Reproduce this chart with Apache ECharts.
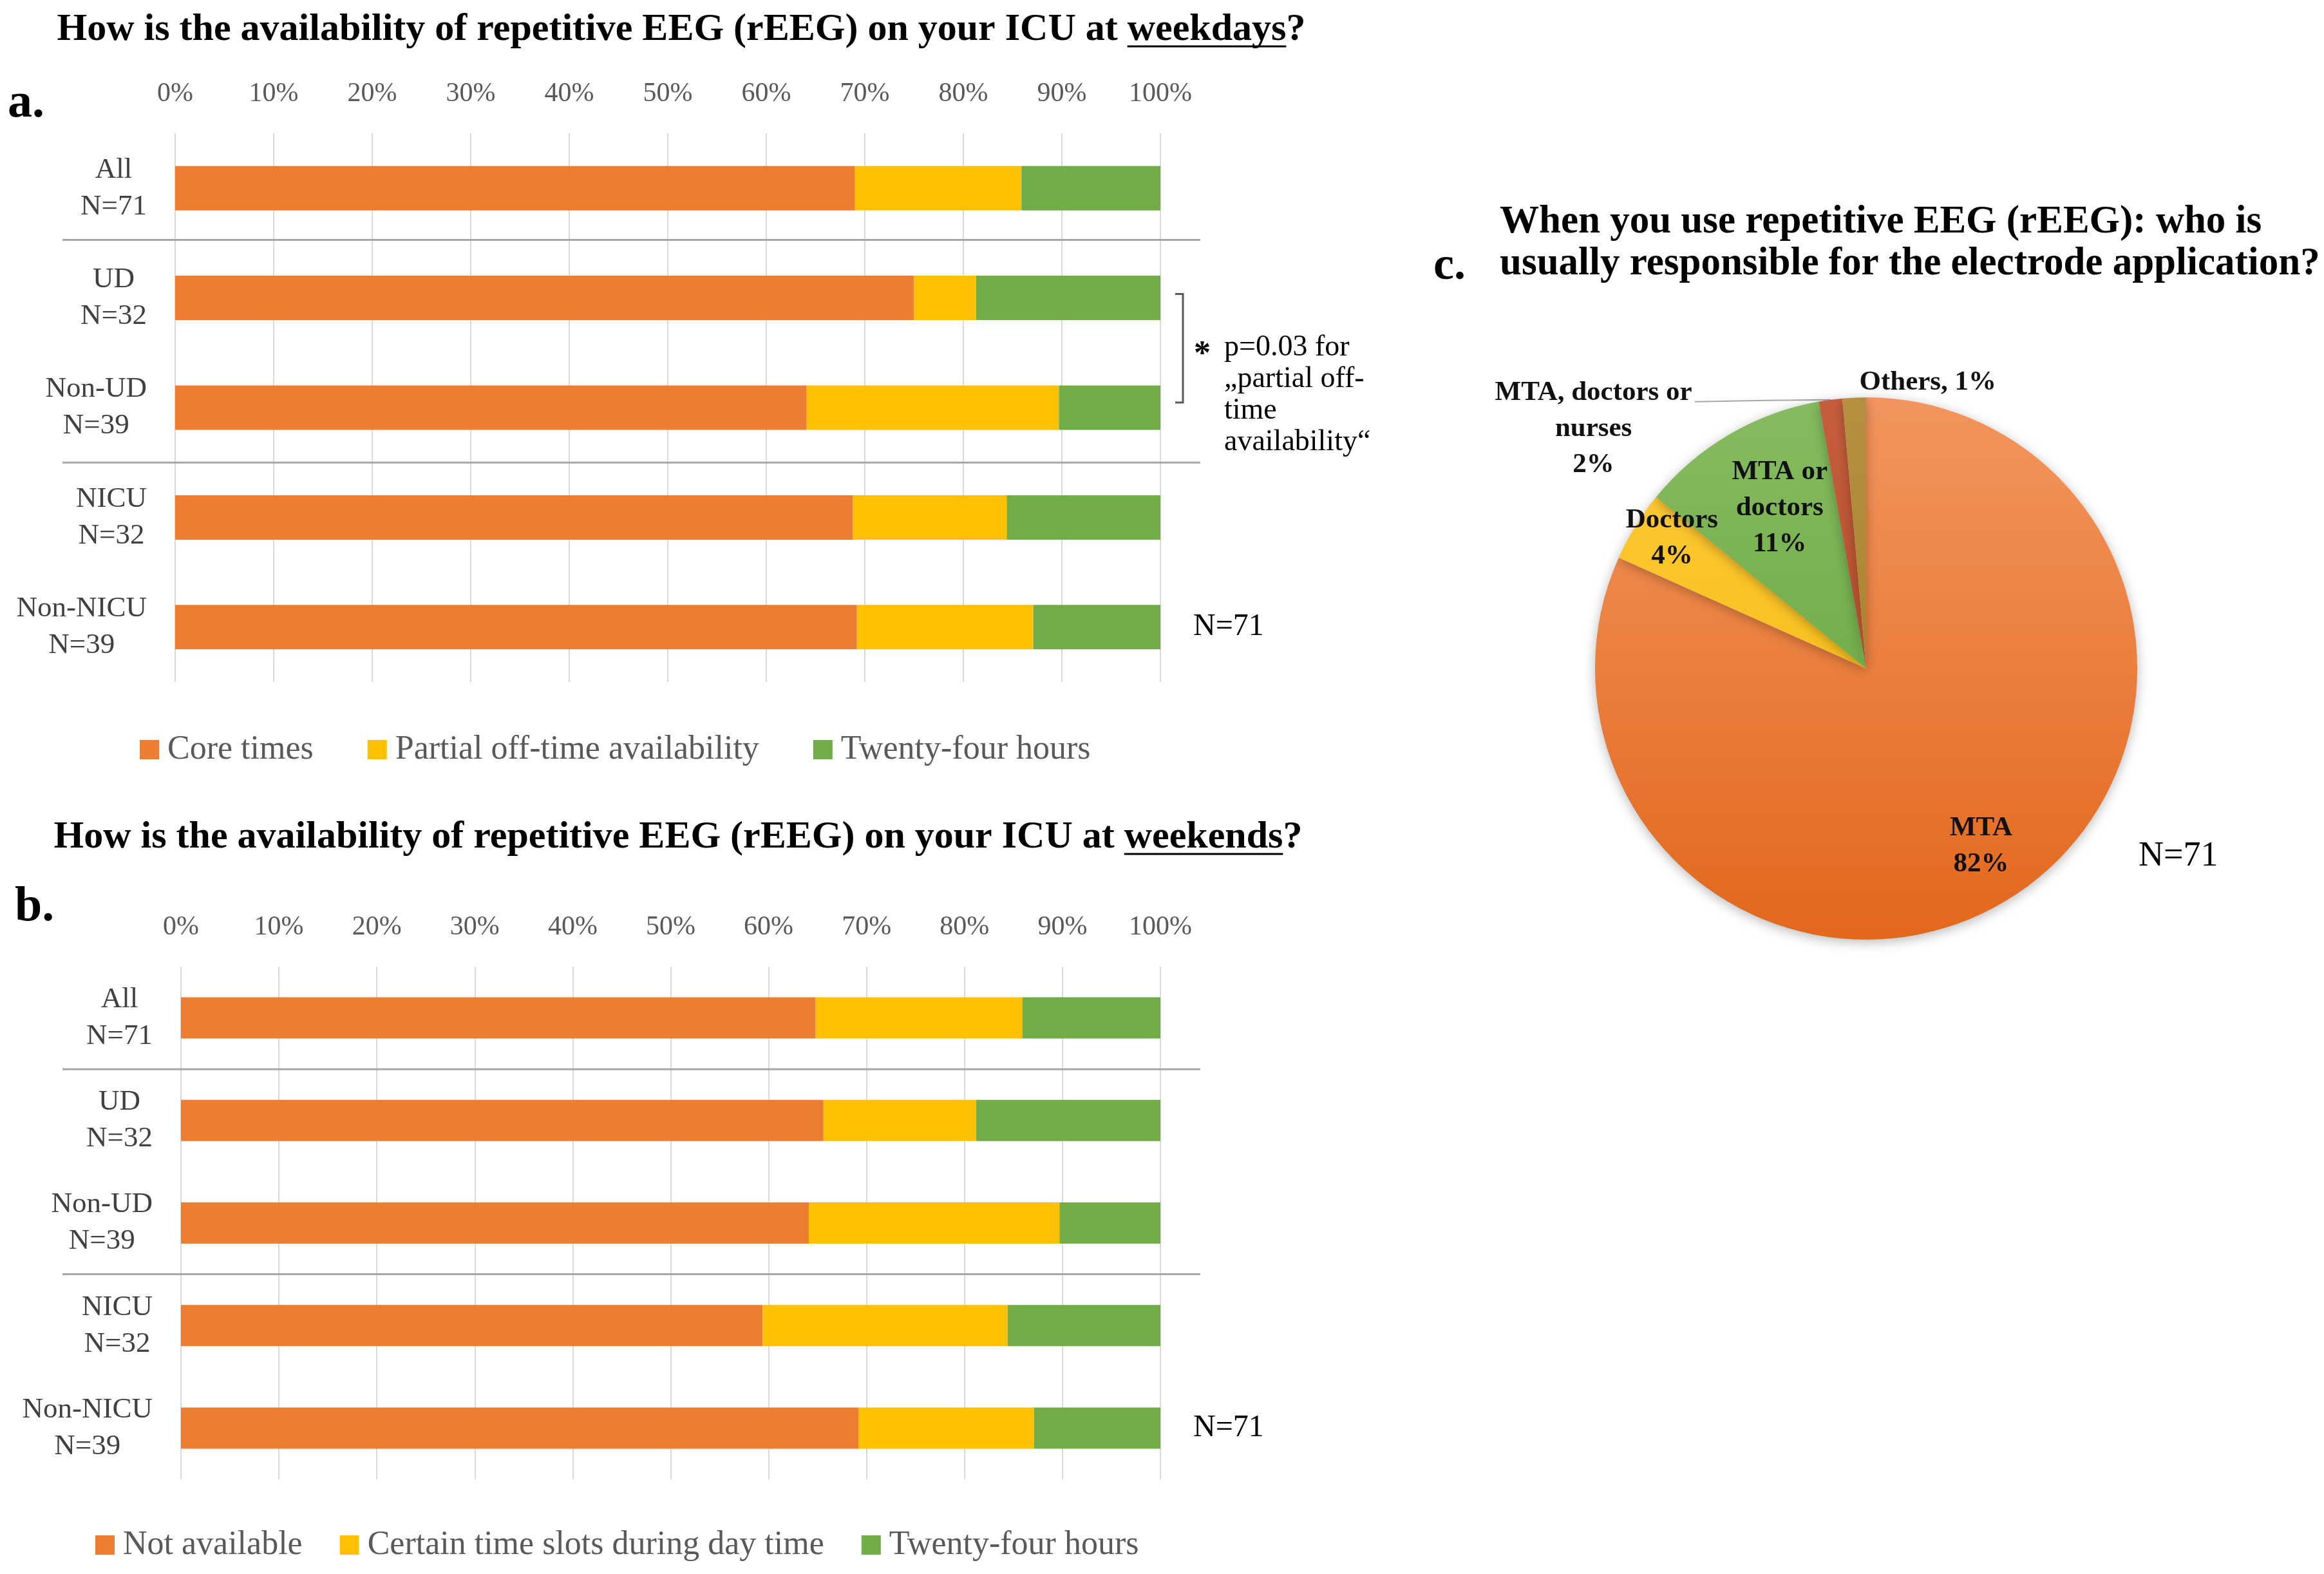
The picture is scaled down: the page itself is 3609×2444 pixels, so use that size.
<!DOCTYPE html>
<html>
<head>
<meta charset="utf-8">
<script src="https://cdn.jsdelivr.net/npm/echarts@6/dist/echarts.min.js"></script>
<style>html,body{margin:0;padding:0;background:#fff}#c{width:3609px;height:2444px}</style>
</head>
<body>
<div id="c"></div>
<script>
// ---------------- data ----------------
const categories = ['All\nN=71', 'UD\nN=32', 'Non-UD\nN=39', 'NICU\nN=32', 'Non-NICU\nN=39'];

const weekdaySeriesNames = ['Core times', 'Partial off-time availability', 'Twenty-four hours'];
const weekdayCore    = [69.0, 75.0, 64.1, 68.8, 69.2];
const weekdayPartial = [16.9,  6.3, 25.6, 15.6, 17.9];
const weekdayFull    = [14.1, 18.7, 10.3, 15.6, 12.9];

const weekendSeriesNames = ['Not available', 'Certain time slots during day time', 'Twenty-four hours'];
const weekendNone  = [64.8, 65.6, 64.1, 59.4, 69.2];
const weekendSlots = [21.1, 15.6, 25.6, 25.0, 17.9];
const weekendFull  = [14.1, 18.8, 10.3, 15.6, 12.9];

const pieNames  = ['MTA', 'Doctors', 'MTA or doctors', 'MTA, doctors or nurses', 'Others'];
const pieValues = [81.7, 4.2, 11.3, 1.4, 1.4];
const pieLabelTexts = ['MTA\n82%', 'Doctors\n4%', 'MTA or\ndoctors\n11%', 'MTA, doctors or\nnurses\n2%', 'Others, 1%'];

const sampleLabel = 'N=71';
const titleA = ['How is the availability of repetitive EEG (rEEG) on your ICU at ', 'weekdays', '?'];
const titleB = ['How is the availability of repetitive EEG (rEEG) on your ICU at ', 'weekends', '?'];
const titleC = ['When you use repetitive EEG (rEEG): who is', 'usually responsible for the electrode application?'];
const noteLines = ['p=0.03 for', '\u201Epartial off-', 'time', 'availability\u201C'];

// ---------------- style ----------------
const FONT = '"Liberation Serif", "Times New Roman", serif';
const ORANGE = '#ED7D31', YELLOW = '#FFC000', GREEN = '#70AD47';
const PIE_C = { x: 2898, y: 1038 }, PIE_R = 421;
const pieColors = [['#F3955F', '#E2681C'], ['#FFCB3D', '#F3B600'], ['#86BC60', '#60A038'], ['#C65E3E', '#A9441C'], ['#B69040', '#9E7A20']];
const insideFrac = [0.78, 0.867, 0.686];
const insideNudge = [[0, 0], [9, -10], [12, 0]];

function catFormatter(v) { return v.split('\n').map(s => '{c|' + s + '}').join('\n'); }

function xAxisCfg(gi) {
  return {
    gridIndex: gi, type: 'value', position: 'top', min: 0, max: 100, interval: 10,
    axisLabel: { formatter: '{value}%', fontSize: 42, color: '#595959', margin: 40, fontFamily: FONT },
    splitLine: { show: true, lineStyle: { color: '#D9D9D9', width: 2 } },
    axisLine: { show: false }, axisTick: { show: false }
  };
}
function yAxisCfg(gi) {
  return {
    gridIndex: gi, type: 'category', data: categories, inverse: true,
    axisLine: { show: false }, axisTick: { show: false }, splitLine: { show: false },
    axisLabel: {
      margin: 44, formatter: catFormatter, fontFamily: FONT,
      rich: { c: { align: 'center', fontSize: 45, lineHeight: 57, color: '#404040', fontFamily: FONT } }
    }
  };
}
function barSeries(name, data, color, gi, width) {
  return {
    type: 'bar', name, data, stack: 'g' + gi, xAxisIndex: gi, yAxisIndex: gi,
    barWidth: width, itemStyle: { color }, silent: true, emphasis: { disabled: true }
  };
}
function grad(c) {
  return { type: 'linear', x: 0, y: PIE_C.y - PIE_R, x2: 0, y2: PIE_C.y + PIE_R, global: true,
    colorStops: [{ offset: 0, color: c[0] }, { offset: 1, color: c[1] }] };
}

// cumulative angles for the pie (clockwise from 12 o'clock)
const pieTotal = pieValues.reduce((a, b) => a + b, 0);
const pieMid = [];
{ let cum = 0; pieValues.forEach(v => { pieMid.push((cum + v / 2) / pieTotal * 2 * Math.PI); cum += v; }); }
function piePoint(i, f) {
  return [PIE_C.x + f * PIE_R * Math.sin(pieMid[i]), PIE_C.y - f * PIE_R * Math.cos(pieMid[i])];
}

const legendText = { fontSize: 52, color: '#595959', fontFamily: FONT, padding: [0, 0, 0, 8] };
const option = {
  animation: false,
  backgroundColor: '#ffffff',
  textStyle: { fontFamily: FONT },
  grid: [
    { left: 272, width: 1530, top: 207, height: 852 },
    { left: 281, width: 1521, top: 1501, height: 796 }
  ],
  xAxis: [xAxisCfg(0), xAxisCfg(1)],
  yAxis: [yAxisCfg(0), yAxisCfg(1)],
  legend: [
    { data: weekdaySeriesNames, left: 212, top: 1133, itemWidth: 30, itemHeight: 30, itemGap: 84, icon: 'rect',
      selectedMode: false, textStyle: legendText },
    { data: weekendSeriesNames, left: 143, top: 2368, itemWidth: 30, itemHeight: 30, itemGap: 58, icon: 'rect',
      selectedMode: false, textStyle: legendText }
  ],
  series: [
    barSeries(weekdaySeriesNames[0], weekdayCore, ORANGE, 0, 69),
    barSeries(weekdaySeriesNames[1], weekdayPartial, YELLOW, 0, 69),
    barSeries(weekdaySeriesNames[2], weekdayFull, GREEN, 0, 69),
    barSeries(weekendSeriesNames[0], weekendNone, ORANGE, 1, 64),
    barSeries(weekendSeriesNames[1], weekendSlots, YELLOW, 1, 64),
    barSeries(weekendSeriesNames[2], weekendFull, GREEN, 1, 64),
    {
      type: 'pie', center: [PIE_C.x, PIE_C.y], radius: PIE_R, startAngle: 90, clockwise: true,
      silent: true, emphasis: { disabled: true }, avoidLabelOverlap: false,
      itemStyle: { shadowBlur: 18, shadowColor: 'rgba(0,0,0,0.28)', shadowOffsetY: 4 },
      data: pieNames.map((n, i) => ({
        name: n, value: pieValues[i], itemStyle: { color: grad(pieColors[i]) },
        label: { position: i === 3 ? 'outside' : 'inside' },
        labelLine: { show: i === 3, lineStyle: { color: '#A6A6A6', width: 2 } }
      })),
      label: {
        show: true, position: 'inside', formatter: p => pieLabelTexts[p.dataIndex],
        fontSize: 43, fontWeight: 'bold', lineHeight: 56, color: '#111', fontFamily: FONT, overflow: 'none'
      },
      labelLayout: function (params) {
        const i = params.dataIndex;
        if (i < 3) {
          const p = piePoint(i, insideFrac[i]);
          return { x: p[0] + insideNudge[i][0], y: p[1] + insideNudge[i][1], align: 'center', verticalAlign: 'middle' };
        }
        const e = piePoint(i, 1);
        if (i === 3) {
          return { x: e[0] - 368, y: e[1] - 39, align: 'center', verticalAlign: 'top',
            labelLinePoints: [[e[0], e[1]], [e[0] - 100, e[1] + 1], [e[0] - 211, e[1] + 3]] };
        }
        return { x: e[0] + 8, y: e[1] - 24, align: 'left', verticalAlign: 'middle' };
      }
    }
  ]
};

const chart = echarts.init(document.getElementById('c'), null, { renderer: 'canvas' });
chart.setOption(option);

// ---------------- decorations derived from axes ----------------
const mctx = document.createElement('canvas').getContext('2d');
function tw(text, font) { mctx.font = font; return mctx.measureText(text).width; }
const titleFont = 'bold 60px "Liberation Serif"';
const titleFontC = 'bold 61px "Liberation Serif"';
const g = [];
function addTitle(id, parts, cx, cy) {
  const full = parts.join('');
  const W = tw(full, titleFont), w1 = tw(parts[0], titleFont), w2 = tw(parts[1], titleFont);
  const left = cx - W / 2;
  g.push({ type: 'text', id: id, x: cx, y: cy, silent: true,
    style: { text: full, font: titleFont, textAlign: 'center', textVerticalAlign: 'middle', fill: '#000' } });
  g.push({ type: 'line', id: id + 'u', silent: true,
    shape: { x1: left + w1, y1: cy + 26, x2: left + w1 + w2, y2: cy + 26 }, style: { stroke: '#000', lineWidth: 3 } });
}
function addText(id, text, x, y, font, align, fill, extra) {
  g.push({ type: 'text', id, x, y, silent: true,
    style: Object.assign({ text, font, textAlign: align || 'left', textVerticalAlign: 'middle', fill: fill || '#000' }, extra || {}) });
}
addTitle('tA', titleA, 1058, 46);
addTitle('tB', titleB, 1053, 1300);
addText('la', 'a.', 12, 161, 'bold 76px "Liberation Serif"');
addText('lb', 'b.', 23, 1409, 'bold 76px "Liberation Serif"');
addText('lc', 'c.', 2226, 414, 'bold 72px "Liberation Serif"');
addText('tC1', titleC[0], 2329, 345, titleFontC);
addText('tC2', titleC[1], 2329, 410, titleFontC);
addText('nC', sampleLabel, 3321, 1330, '54px "Liberation Serif"', 'left', '#000');

[0, 1].forEach(gi => {
  const ys = categories.map((c, i) => chart.convertToPixel({ yAxisIndex: gi }, i));
  const x100 = chart.convertToPixel({ xAxisIndex: gi }, 100);
  [[0, 1], [2, 3]].forEach(([a, b], k) => {
    const y = (ys[a] + ys[b]) / 2 - (gi === 0 && k === 0 ? 5 : 0);
    g.push({ type: 'line', id: 'sep' + gi + k, silent: true,
      shape: { x1: 97, y1: y, x2: 1864, y2: y }, style: { stroke: '#A6A6A6', lineWidth: 3 } });
  });
  addText('n' + gi, sampleLabel, x100 + 51, ys[4], '48px "Liberation Serif"', 'left', '#000');
  if (gi === 0) {
    const yt = ys[1] - 6, yb = ys[2] - 8;
    g.push({ type: 'polyline', id: 'br', silent: true,
      shape: { points: [[x100 + 23, yt], [x100 + 35, yt], [x100 + 35, yb], [x100 + 23, yb]] },
      style: { stroke: '#595959', lineWidth: 3, fill: null } });
    const ym = (ys[1] + ys[2]) / 2;
    addText('ast', '*', x100 + 65, ym + 4, 'bold 52px "Liberation Serif"', 'center', '#000');
    noteLines.forEach((t, j) => addText('note' + j, t, x100 + 99, ym - 8 + j * 49, '46px "Liberation Serif"', 'left', '#000'));
  }
});
chart.setOption({ graphic: g });
</script>
</body>
</html>
